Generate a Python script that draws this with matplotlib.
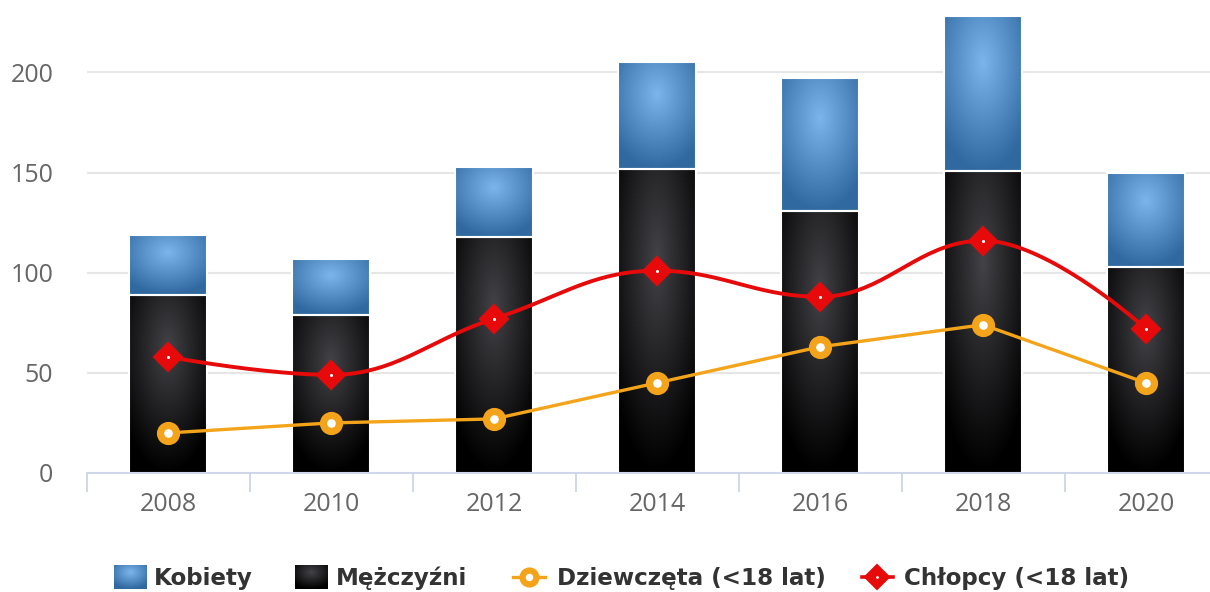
import numpy as np
import matplotlib.pyplot as plt
from matplotlib.patches import Rectangle
from matplotlib.lines import Line2D

# data
years = ['2008', '2010', '2012', '2014', '2016', '2018', '2020']
mezczyzni = [89, 79, 118, 152, 131, 151, 103]
kobiety = [30, 28, 35, 53, 66, 77, 47]
dziewczeta = [20, 25, 27, 45, 63, 74, 45]
chlopcy = [58, 49, 77, 101, 88, 116, 72]

BLUE = ('#7cb5ec', '#3069a0')
BLACK = ('#434348', '#000000')
ORANGE = '#f4a41a'
RED = '#e60a0a'
GRID = '#e6e6e6'
AXIS = '#ccd6eb'
LABEL = '#666666'

W, H = 1210, 592


def radial(c0, c1, n=160, m=80):
    # radial gradient in bounding box units (cx .5, cy .3, r .7)
    c0 = np.array(plt.matplotlib.colors.to_rgb(c0))
    c1 = np.array(plt.matplotlib.colors.to_rgb(c1))
    v, u = np.mgrid[0:1:n * 1j, 0:1:m * 1j]
    d = np.sqrt(((u - 0.5) / 0.7) ** 2 + ((v - 0.3) / 0.7) ** 2)
    t = np.clip(d, 0, 1)[..., None]
    return c0 * (1 - t) + c1 * t


def fill_gradient(ax, rect, cols):
    x0, y0 = rect.get_x(), rect.get_y()
    w, h = rect.get_width(), rect.get_height()
    im = ax.imshow(radial(*cols), extent=(x0, x0 + w, y0, y0 + h),
                   aspect='auto', interpolation='bilinear', zorder=2)
    im.set_clip_path(rect)
    rect.set_facecolor('none')
    rect.set_zorder(3)


def hc_spline(xs, ys, smoothing=1.5, steps=40):
    # same control point rule as the Highcharts spline series
    n = len(xs)
    lc = [(xs[i], ys[i]) for i in range(n)]
    rc = [(xs[i], ys[i]) for i in range(n)]
    for i in range(1, n - 1):
        px, py = xs[i], ys[i]
        lx, ly = xs[i - 1], ys[i - 1]
        nx, ny = xs[i + 1], ys[i + 1]
        den = smoothing + 1
        lcx = (smoothing * px + lx) / den
        lcy = (smoothing * py + ly) / den
        rcx = (smoothing * px + nx) / den
        rcy = (smoothing * py + ny) / den
        corr = (rcy - lcy) * (rcx - px) / (rcx - lcx) + py - rcy
        lcy += corr
        rcy += corr
        if lcy > ly and lcy > py:
            lcy = max(ly, py); rcy = 2 * py - lcy
        elif lcy < ly and lcy < py:
            lcy = min(ly, py); rcy = 2 * py - lcy
        if rcy > ny and rcy > py:
            rcy = max(ny, py); lcy = 2 * py - rcy
        elif rcy < ny and rcy < py:
            rcy = min(ny, py); lcy = 2 * py - rcy
        lc[i] = (lcx, lcy)
        rc[i] = (rcx, rcy)
    t = np.linspace(0, 1, steps)[:, None]
    out = []
    for i in range(1, n):
        p0 = np.array([xs[i - 1], ys[i - 1]])
        p1 = np.array(rc[i - 1])
        p2 = np.array(lc[i])
        p3 = np.array([xs[i], ys[i]])
        seg = ((1 - t) ** 3 * p0 + 3 * (1 - t) ** 2 * t * p1
               + 3 * (1 - t) * t ** 2 * p2 + t ** 3 * p3)
        out.append(seg if i == 1 else seg[1:])
    out = np.vstack(out)
    return out[:, 0], out[:, 1]


plt.rcParams['font.family'] = ['DejaVu Sans']
fig = plt.figure(figsize=(W / 100, H / 100), dpi=100)

# plot area runs past the right edge, as in the reference
x_left, cat_w, y_zero = 86.5, 163.0, 473.0
ax = fig.add_axes([x_left / W, (H - y_zero) / H, 7 * cat_w / W, y_zero / H])
x = np.arange(len(years))

bars_m = ax.bar(x, mezczyzni, width=0.475, edgecolor='white', linewidth=1.5)
bars_k = ax.bar(x, kobiety, bottom=mezczyzni, width=0.475,
                edgecolor='white', linewidth=1.5)
for r in bars_m:
    fill_gradient(ax, r, BLACK)
for r in bars_k:
    fill_gradient(ax, r, BLUE)

sx, sy = hc_spline(x, chlopcy)
ax.plot(sx, sy, color=RED, lw=2.8, zorder=5, solid_capstyle='round')
ax.plot(x, chlopcy, ls='none', marker='D', ms=14, mfc=RED, mec=RED,
        mew=1.5, zorder=6)
ax.plot(x, chlopcy, ls='none', marker='o', ms=2.2, mfc='white', mew=0,
        zorder=7)

ax.plot(x, dziewczeta, color=ORANGE, lw=2.4, zorder=5)
ax.plot(x, dziewczeta, ls='none', marker='o', ms=11.5, mfc='white',
        mec=ORANGE, mew=5.2, zorder=6)

ax.set_xlim(-0.5, 6.5)
ax.set_ylim(0, y_zero / 2.003)
ax.set_yticks([0, 50, 100, 150, 200])
ax.yaxis.grid(True, color=GRID, lw=1.5)
ax.set_axisbelow(True)
for s in ['top', 'right', 'left']:
    ax.spines[s].set_visible(False)
ax.spines['bottom'].set_color(AXIS)
ax.spines['bottom'].set_linewidth(1.3)
ax.spines['bottom'].set_zorder(8)

ax.set_xticks(x, years)
ax.set_xticks(np.arange(-0.5, 7, 1), minor=True)
ax.tick_params(axis='x', which='major', length=0, pad=14,
               labelsize=18, labelcolor=LABEL)
ax.tick_params(axis='x', which='minor', length=13.5, width=1.3, color=AXIS)
ax.tick_params(axis='y', length=0, pad=24, labelsize=18, labelcolor=LABEL)
for lab in ax.get_xticklabels() + ax.get_yticklabels():
    lab.set_fontfamily(['Open Sans', 'DejaVu Sans'])

# legend drawn in pixel space along the bottom
lg = fig.add_axes([0, 0, 1, 1], zorder=10)
lg.axis('off')
ly = 577
for (x0, cols) in [(114, BLUE), (295, BLACK)]:
    sq = Rectangle((x0, ly - 12), 33, 24, facecolor='none', edgecolor='none')
    lg.add_patch(sq)
    im = lg.imshow(radial(*cols), extent=(x0, x0 + 33, ly + 12, ly - 12),
                   aspect='auto', interpolation='bilinear')
    im.set_clip_path(sq)
lg.add_line(Line2D([513, 545], [ly, ly], color=ORANGE, lw=2.4))
lg.plot([529], [ly], marker='o', ms=10, mfc='white', mec=ORANGE, mew=4.5)
lg.add_line(Line2D([862, 893], [ly, ly], color=RED, lw=2.6))
lg.plot([877], [ly], marker='D', ms=12, mfc=RED, mec=RED, mew=1.5)
lg.plot([877], [ly], marker='o', ms=2, mfc='white', mew=0)
for tx, label in [(154, 'Kobiety'), (336, 'Mężczyźni'),
                  (557, 'Dziewczęta (<18 lat)'), (904, 'Chłopcy (<18 lat)')]:
    lg.text(tx, ly + 1, label, fontsize=16.6, fontweight='bold',
            color='#333333', va='center', ha='left')
lg.set_xlim(0, W)
lg.set_ylim(H, 0)

fig.savefig('out.png', dpi=100)
